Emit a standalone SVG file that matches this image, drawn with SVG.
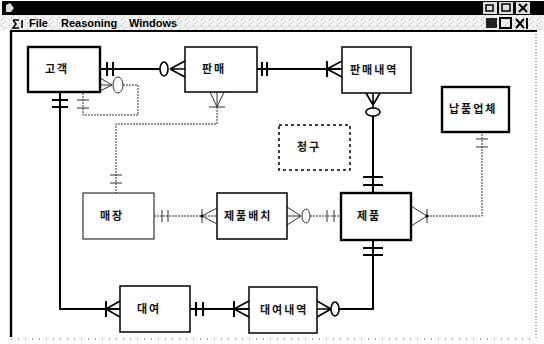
<svg xmlns="http://www.w3.org/2000/svg" width="544" height="344" viewBox="0 0 544 344">
<defs>
<style>
.t{font-family:"Noto Sans CJK KR","Noto Sans",sans-serif;font-size:11px;font-weight:bold;fill:#111;letter-spacing:2px}
.m{font-family:"Liberation Sans",Arial,sans-serif;font-size:11px;font-weight:bold;fill:#000}
.b1{fill:#fff;stroke:#000;stroke-width:2.4}
.b2{fill:#fff;stroke:#000;stroke-width:1.5}
.b3{fill:#fff;stroke:#222;stroke-width:1.1}
.dash{fill:#fff;stroke:#000;stroke-width:1.5;stroke-dasharray:3 3}
.k{fill:none;stroke:#000;stroke-width:2}
.kb{fill:none;stroke:#000;stroke-width:1.6}
.d{fill:none;stroke:#333;stroke-width:1;stroke-dasharray:2 1}
.dn{fill:none;stroke:#333;stroke-width:1}
.c{fill:#fff;stroke:#000;stroke-width:1.6}
.cd{fill:#fff;stroke:#333;stroke-width:1}
</style>
<pattern id="noise" width="8" height="6" patternUnits="userSpaceOnUse">
<rect width="8" height="6" fill="#f2f2f2"/>
<rect x="1" y="1" width="1" height="1" fill="#999"/>
<rect x="5" y="3" width="1" height="1" fill="#bbb"/>
<rect x="3" y="5" width="1" height="1" fill="#aaa"/>
</pattern>
</defs>
<g id="window">
<rect x="0" y="0" width="544" height="344" fill="#fff"/>
<rect x="2" y="1" width="542" height="14" fill="#000"/>
<path d="M6 12 L6 5 L10 3 L14 8 L11 12 Z" fill="#ddd"/>
<rect x="483" y="2" width="14" height="12" fill="#ddd"/>
<rect x="486" y="5" width="7" height="6" fill="none" stroke="#000" stroke-width="1.5"/>
<rect x="499" y="2" width="14" height="12" fill="#ddd"/>
<rect x="502" y="4" width="8" height="7" fill="none" stroke="#000" stroke-width="1.5"/>
<rect x="516" y="2" width="14" height="12" fill="#ddd"/>
<path d="M519 4 L527 12 M527 4 L519 12" stroke="#000" stroke-width="2"/>
<rect x="0" y="15" width="544" height="15" fill="url(#noise)"/>
<path d="M13 20 L19 20 M13 20 L16 24 L13 28 L19 28 M22 20 L22 28" fill="none" stroke="#000" stroke-width="1.6"/>
<text class="m" x="29" y="27">File</text>
<text class="m" x="61" y="27">Reasoning</text>
<text class="m" x="129" y="27">Windows</text>
<rect x="486" y="18" width="11" height="10" fill="#222"/>
<rect x="500" y="18" width="11" height="10" fill="none" stroke="#000" stroke-width="2"/>
<path d="M516 19 L524 28 M524 19 L516 28 M527 18 L527 29" stroke="#000" stroke-width="2"/>
<line x1="10" y1="31" x2="537" y2="31" stroke="#000" stroke-width="2"/>
<line x1="11" y1="31" x2="11" y2="337" stroke="#000" stroke-width="2.4"/>
<line x1="536" y1="31" x2="536" y2="338" stroke="#444" stroke-width="1" stroke-dasharray="1 2"/>
<line x1="11" y1="339" x2="536" y2="339" stroke="#555" stroke-width="1" stroke-dasharray="1 6"/>
</g>
<g id="connectors">
<path class="k" d="M100 69 H160"/>
<path class="k" d="M107 62 V76 M113 62 V76"/>
<path class="kb" d="M170 69 H185 M170 69 L185 61 M170 69 L185 77"/>
<ellipse class="c" cx="164" cy="69" rx="4" ry="7"/>
<path class="k" d="M257 69 H342"/>
<path class="k" d="M262 62 V76 M267 62 V76 M327 61 V77"/>
<path class="kb" d="M327 69 L342 61 M327 69 L342 77"/>
<path class="k" d="M373 116 V193"/>
<path class="kb" d="M366 93 L373 105 M380 93 L373 105 M373 93 V108"/>
<ellipse class="c" cx="373" cy="112" rx="7" ry="4"/>
<path class="k" d="M363 177 H383 M363 185 H383"/>
<path class="k" d="M60 93 V309 H120"/>
<path class="k" d="M52 100 H68 M52 107 H68 M106 301 V317"/>
<path class="kb" d="M106 309 L120 301 M106 309 L120 317"/>
<path class="k" d="M190 309 H249"/>
<path class="k" d="M196 302 V316 M203 302 V316 M234 301 V317"/>
<path class="kb" d="M234 309 L249 301 M234 309 L249 317"/>
<path class="k" d="M339 309 H373 V240"/>
<path class="kb" d="M317 301 L331 309 M317 317 L331 309 M317 309 H331"/>
<ellipse class="c" cx="335" cy="309" rx="4" ry="7"/>
<path class="k" d="M363 248 H383 M363 255 H383"/>
<path class="d" d="M83 93 V115 H138 V85 H123"/>
<path class="dn" d="M112 85 L100 78 M112 85 L100 91 M112 85 H100"/>
<ellipse class="cd" cx="118" cy="85" rx="5" ry="8"/>
<path class="dn" d="M77 100 H89 M77 108 H89"/>
<path class="d" d="M217 107 V124 H116 V193"/>
<path class="dn" d="M210 92 L217 107 M224 92 L217 107 M217 92 V107 M209 107 H225"/>
<path class="dn" d="M110 175 H122 M110 183 H122"/>
<path class="d" d="M154 216 H217"/>
<path class="dn" d="M162 210 V222 M168 210 V222 M202 209 V223 M202 216 L217 208 M202 216 L217 224"/>
<circle cx="202" cy="216" r="1.6" fill="#000"/>
<path class="d" d="M310 216 H341"/>
<path class="dn" d="M287 207 L301 216 M287 225 L301 216 M287 216 H301 M327 210 V222 M334 210 V222"/>
<ellipse class="cd" cx="306" cy="216" rx="4" ry="7"/>
<path class="d" d="M427 216 H482 V132"/>
<path class="dn" d="M411 206 L427 216 M411 226 L427 216 M427 209 V223 M476 139 H488 M476 147 H488"/>
<circle cx="427" cy="216" r="1.6" fill="#000"/>
</g>
<g id="n_gogaek"><rect class="b1" x="28" y="47" width="72" height="45"/><text class="t" x="45" y="73">고객</text></g>
<g id="n_panmae"><rect class="b2" x="185" y="47" width="72" height="45"/><text class="t" x="202" y="73">판매</text></g>
<g id="n_panmaenaeyeok"><rect class="b2" x="342" y="47" width="69" height="46"/><text class="t" x="350" y="74">판매내역</text></g>
<g id="n_napum"><rect class="b1" x="442" y="87" width="67" height="45"/><text class="t" x="449" y="113">납품업체</text></g>
<g id="n_cheonggu"><rect class="dash" x="279" y="125" width="71" height="45"/><text class="t" x="297" y="151">청구</text></g>
<g id="n_maejang"><rect class="b3" x="83" y="193" width="71" height="46"/><text class="t" x="100" y="220">매장</text></g>
<g id="n_jepumbaechi"><rect class="b2" x="217" y="193" width="70" height="46"/><text class="t" x="224" y="220">제품배치</text></g>
<g id="n_jepum"><rect class="b1" x="341" y="193" width="70" height="47"/><text class="t" x="357" y="220">제품</text></g>
<g id="n_daeyeo"><rect class="b2" x="120" y="286" width="70" height="46"/><text class="t" x="137" y="313">대여</text></g>
<g id="n_daeyeonaeyeok"><rect class="b2" x="249" y="287" width="68" height="46"/><text class="t" x="260" y="314">대여내역</text></g>
</svg>
